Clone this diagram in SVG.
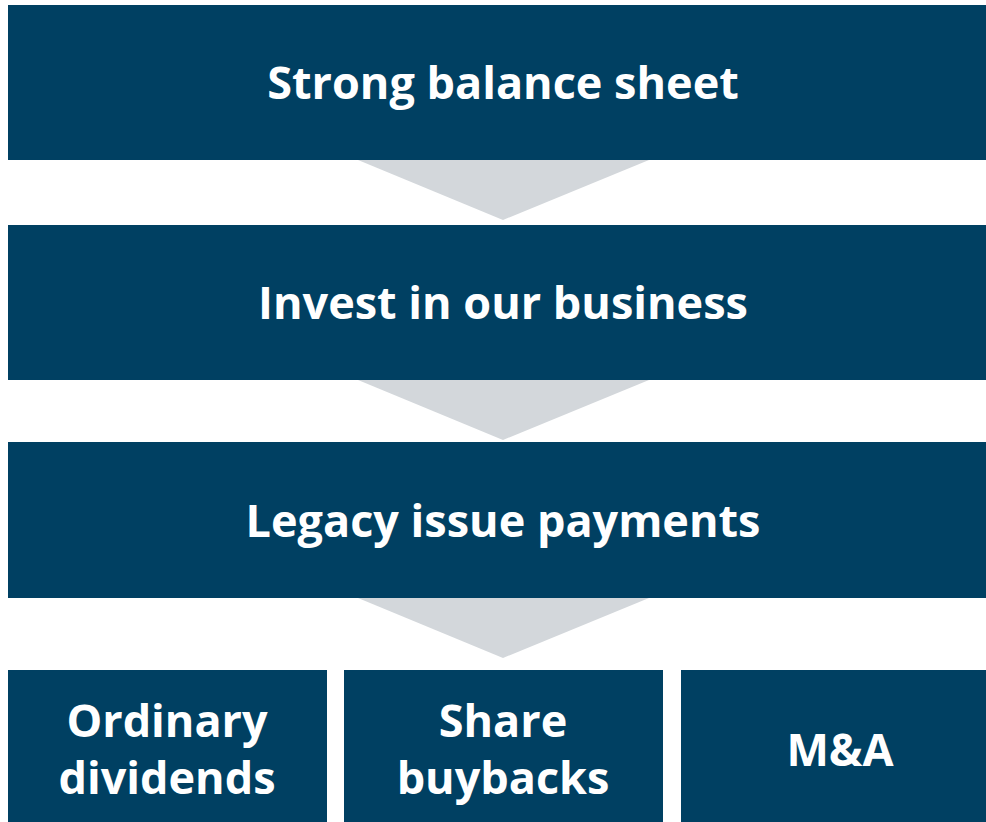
<svg xmlns="http://www.w3.org/2000/svg" width="986" height="822" viewBox="0 0 986 822">
<style>
.box{fill:#004062}
.arr{fill:#d3d7db}
.t{fill:#ffffff;font-family:"Open Sans","Noto Sans","DejaVu Sans",sans-serif;font-weight:700;font-size:45px;text-anchor:middle}
</style>
<rect width="986" height="822" fill="#ffffff"/>
<g id="connectors">
<polygon class="arr" points="358,160 649,160 503,220"/>
<polygon class="arr" points="358,380 649,380 503,440"/>
<polygon class="arr" points="358,598 649,598 503,658"/>
</g>
<g id="n1"><rect class="box" x="8" y="5" width="978" height="155"/><text class="t" x="503" y="99">Strong balance sheet</text></g>
<g id="n2"><rect class="box" x="8" y="225" width="978" height="155"/><text class="t" x="503" y="319">Invest in our business</text></g>
<g id="n3"><rect class="box" x="8" y="442" width="978" height="156"/><text class="t" x="503" y="537">Legacy issue payments</text></g>
<g id="n4"><rect class="box" x="8" y="670" width="319" height="152"/><text class="t" x="167" y="737">Ordinary</text><text class="t" x="167" y="794">dividends</text></g>
<g id="n5"><rect class="box" x="344" y="670" width="319" height="152"/><text class="t" x="503" y="737">Share</text><text class="t" x="503" y="794">buybacks</text></g>
<g id="n6"><rect class="box" x="681" y="670" width="305" height="152"/><text class="t" x="840" y="766">M&amp;A</text></g>
</svg>
